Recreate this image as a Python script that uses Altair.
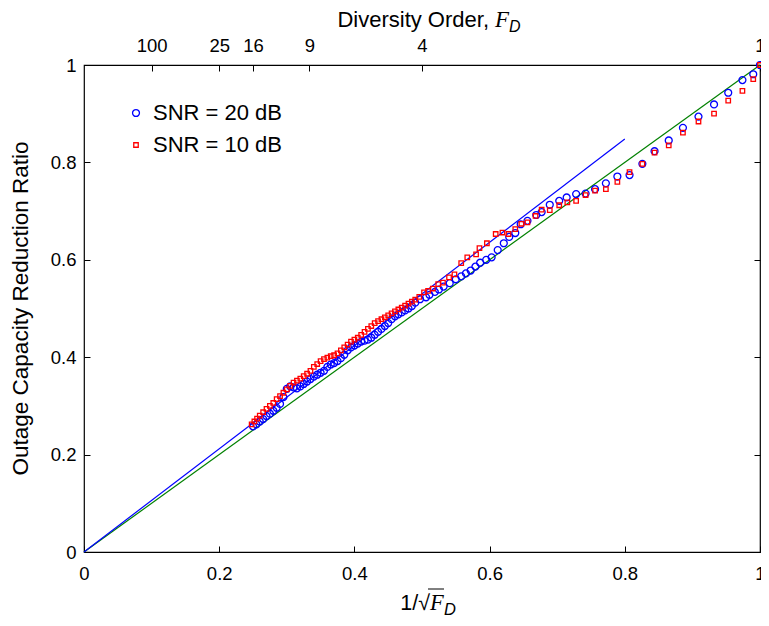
import altair as alt
import pandas as pd

# ---- data ----
series = ["SNR = 20 dB", "SNR = 10 dB"]

x20 = [0.250, 0.255, 0.260, 0.265, 0.270, 0.275, 0.280, 0.285, 0.290, 0.295,
       0.300, 0.305, 0.310, 0.315, 0.320, 0.325, 0.330, 0.335, 0.340, 0.345,
       0.350, 0.355, 0.360, 0.365, 0.370, 0.375, 0.380, 0.385, 0.390, 0.395,
       0.400, 0.405, 0.410, 0.415, 0.420, 0.425, 0.430, 0.435, 0.440, 0.445,
       0.450, 0.455, 0.460, 0.465, 0.470, 0.475, 0.480, 0.485, 0.490, 0.497,
       0.506, 0.511, 0.519, 0.525, 0.532, 0.541, 0.550, 0.558, 0.565, 0.572,
       0.579, 0.586, 0.595, 0.603, 0.612, 0.621, 0.629, 0.638, 0.646, 0.656,
       0.669, 0.677, 0.689, 0.703, 0.714, 0.728, 0.742, 0.756, 0.772, 0.789,
       0.807, 0.826, 0.844, 0.865, 0.886, 0.909, 0.932, 0.953, 0.974, 0.990,
       1.000]
y20 = [0.258, 0.262, 0.268, 0.273, 0.279, 0.284, 0.290, 0.296, 0.304, 0.318,
       0.335, 0.340, 0.338, 0.336, 0.340, 0.345, 0.350, 0.355, 0.360, 0.364,
       0.368, 0.372, 0.380, 0.385, 0.388, 0.392, 0.398, 0.405, 0.414, 0.420,
       0.424, 0.428, 0.432, 0.434, 0.436, 0.440, 0.446, 0.452, 0.458, 0.464,
       0.470, 0.478, 0.484, 0.488, 0.492, 0.496, 0.500, 0.505, 0.512, 0.519,
       0.523, 0.528, 0.534, 0.539, 0.545, 0.552, 0.560, 0.566, 0.572, 0.578,
       0.586, 0.594, 0.600, 0.605, 0.620, 0.634, 0.647, 0.655, 0.673, 0.680,
       0.692, 0.698, 0.713, 0.721, 0.728, 0.735, 0.736, 0.745, 0.757, 0.771,
       0.774, 0.797, 0.823, 0.845, 0.871, 0.894, 0.919, 0.943, 0.969, 0.981,
       1.000]

x10 = [0.248, 0.252, 0.256, 0.260, 0.265, 0.270, 0.275, 0.280, 0.285, 0.290,
       0.295, 0.300, 0.305, 0.310, 0.315, 0.320, 0.325, 0.330, 0.335, 0.340,
       0.345, 0.350, 0.355, 0.360, 0.365, 0.370, 0.375, 0.380, 0.385, 0.390,
       0.395, 0.400, 0.405, 0.410, 0.415, 0.420, 0.425, 0.430, 0.435, 0.440,
       0.445, 0.450, 0.455, 0.460, 0.465, 0.470, 0.475, 0.480, 0.485, 0.490,
       0.496, 0.503, 0.509, 0.516, 0.524, 0.531, 0.540, 0.548, 0.558, 0.567,
       0.580, 0.585, 0.596, 0.609, 0.619, 0.628, 0.638, 0.647, 0.656, 0.668,
       0.677, 0.689, 0.703, 0.715, 0.728, 0.742, 0.756, 0.772, 0.789, 0.807,
       0.826, 0.844, 0.865, 0.886, 0.909, 0.932, 0.953, 0.974, 0.990, 1.000]
y10 = [0.262, 0.268, 0.274, 0.280, 0.287, 0.294, 0.300, 0.306, 0.314, 0.320,
       0.327, 0.334, 0.341, 0.348, 0.352, 0.356, 0.361, 0.366, 0.372, 0.380,
       0.386, 0.392, 0.396, 0.399, 0.402, 0.404, 0.408, 0.414, 0.420, 0.426,
       0.432, 0.436, 0.440, 0.446, 0.452, 0.458, 0.464, 0.470, 0.474, 0.478,
       0.482, 0.486, 0.490, 0.494, 0.498, 0.502, 0.506, 0.510, 0.514, 0.518,
       0.524, 0.533, 0.536, 0.541, 0.550, 0.553, 0.564, 0.570, 0.593, 0.605,
       0.611, 0.624, 0.634, 0.653, 0.656, 0.653, 0.663, 0.674, 0.677, 0.690,
       0.703, 0.702, 0.712, 0.718, 0.721, 0.733, 0.742, 0.745, 0.760, 0.780,
       0.797, 0.820, 0.835, 0.861, 0.884, 0.900, 0.927, 0.947, 0.971, 1.000]

blue_line_x = [0.0, 0.8]
blue_line_y = [0.0, 0.848]
green_line_x = [0.0, 1.0]
green_line_y = [0.0, 1.0]

x_ticks = [0, 0.2, 0.4, 0.6, 0.8, 1]
y_ticks = [0, 0.2, 0.4, 0.6, 0.8, 1]
top_ticks = [0.1, 0.2, 0.25, 0.3333333, 0.5, 1.0]
top_labels = ["100", "25", "16", "9", "4", "1"]

# ---- tables ----
pts = pd.concat([
    pd.DataFrame({"x": x20, "y": y20, "s": series[0]}),
    pd.DataFrame({"x": x10, "y": y10, "s": series[1]}),
], ignore_index=True)
pts["o"] = range(len(pts))
blue_df = pd.DataFrame({"x": blue_line_x, "y": blue_line_y})
green_df = pd.DataFrame({"x": green_line_x, "y": green_line_y})

FONT = "Liberation Sans"
W, H = 676, 487
TICK = 6

xs = alt.Scale(domain=[0, 1], nice=False, zero=False)
ys = alt.Scale(domain=[0, 1], nice=False, zero=False)

axis_common = dict(domain=False, tickSize=TICK, offset=-TICK, tickColor="black",
                   tickWidth=1, labelColor="black", labelFont=FONT, labelFontSize=18.5,
                   grid=False, title=None)

bottom_axis = alt.Axis(orient="bottom", values=x_ticks, format="~g", labelPadding=12,
                       labelFlush=False, **axis_common)
left_axis = alt.Axis(orient="left", values=y_ticks, format="~g", labelPadding=8,
                     labelFlush=False, **axis_common)
top_expr = "[" + ",".join("'%s'" % t for t in top_labels) + "][round(datum.index*%d)]" % (len(top_labels) - 1)
top_axis = alt.Axis(orient="top", values=top_ticks, labelExpr=top_expr, labelPadding=10,
                    labelFlush=False, **axis_common)
right_axis = alt.Axis(orient="right", values=y_ticks, labels=False, **axis_common)

points = alt.Chart(pts).mark_point(filled=False, strokeWidth=1.3, opacity=1).encode(
    x=alt.X("x:Q", scale=xs, axis=bottom_axis),
    y=alt.Y("y:Q", scale=ys, axis=left_axis),
    color=alt.Color("s:N", scale=alt.Scale(domain=series, range=["#0000ff", "#ff0000"]),
                    legend=alt.Legend(title=None)),
    shape=alt.Shape("s:N", scale=alt.Scale(domain=series, range=["circle", "square"]),
                    legend=alt.Legend(title=None)),
    size=alt.Size("s:N", scale=alt.Scale(domain=series, range=[48, 20]),
                  legend=alt.Legend(title=None)),
    order=alt.Order("o:Q"),
)

green = alt.Chart(green_df).mark_line(color="#008000", strokeWidth=1.2).encode(
    x=alt.X("x:Q", scale=xs, axis=top_axis),
    y=alt.Y("y:Q", scale=ys, axis=right_axis),
)
blue = alt.Chart(blue_df).mark_line(color="#0000ff", strokeWidth=1.2).encode(
    x=alt.X("x:Q", scale=xs, axis=None),
    y=alt.Y("y:Q", scale=ys, axis=None),
)

def txt(s, x, y, size=21.5, style="normal", font=FONT, align="left", angle=0, baseline="alphabetic"):
    return alt.Chart(pd.DataFrame({"t": [s]})).mark_text(
        font=font, fontSize=size, fontStyle=style, align=align, angle=angle,
        baseline=baseline, color="black").encode(
        x=alt.value(x), y=alt.value(y), text="t:N")

TOPFS = 22
FX_TOP = 411
top_title = [
    txt("Diversity Order,", FX_TOP - 6, -38, size=TOPFS, align="right"),
    txt("F", FX_TOP, -38, size=TOPFS + 1, style="italic", font="Liberation Serif"),
    txt("D", FX_TOP + 14, -33, size=TOPFS - 6, style="italic"),
]
BOTFS = 21.5
FX_BOT = 346
bot_title = [
    txt("1/\u221a", FX_BOT, 545, size=BOTFS, align="right"),
    txt("F", FX_BOT, 545, size=BOTFS + 1, style="italic", font="Liberation Serif"),
    txt("D", FX_BOT + 14, 550, size=BOTFS - 5, style="italic"),
]
overbar = alt.Chart(pd.DataFrame({"a": [0]})).mark_rule(color="black", strokeWidth=1).encode(
    x=alt.value(FX_BOT - 2), x2=alt.value(FX_BOT + 14), y=alt.value(524))
y_title = txt("Outage Capacity Reduction Ratio", -63, H / 2, size=22.5, angle=270,
              align="center", baseline="middle")

chart = alt.layer(
    green, blue, points, *top_title, *bot_title, overbar, y_title
).resolve_scale(x="shared", y="shared").resolve_axis(
    x="independent", y="independent"
).properties(
    width=W, height=H,
    padding={"left": 76, "top": 57, "right": 1, "bottom": 66},
    autosize=alt.AutoSizeParams(type="none"),
).configure_view(
    stroke="black", strokeWidth=1.2
).configure_legend(
    orient="none", legendX=41, legendY=37, labelFont=FONT, labelFontSize=22,
    labelColor="black", rowPadding=10, labelOffset=6, padding=0,
    symbolStrokeWidth=1.3
)

chart.save("out.html", embed_options={"renderer": "svg", "actions": False})
